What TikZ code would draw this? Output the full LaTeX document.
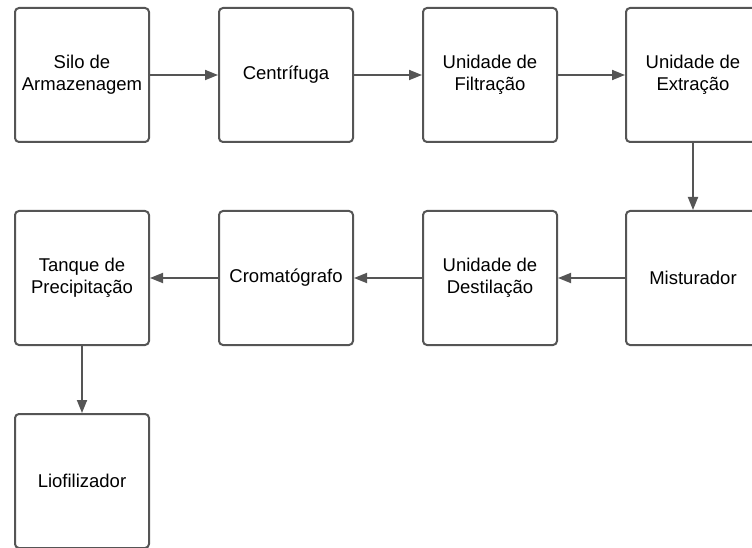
\documentclass[tikz,border=0pt]{standalone}
\usepackage{fontspec}
\setmainfont{Liberation Sans}
\usetikzlibrary{arrows.meta}

\begin{document}
\begin{tikzpicture}[x=1pt, y=-1pt]
% Define the custom color
  \definecolor{mygrey}{RGB}{85,85,85}
  \tikzset{
    unit/.style={draw=mygrey, line width=2pt, rounded corners=4pt, fill=white,
      minimum width=134pt, minimum height=134pt, align=center,
      font=\fontsize{18.5}{22}\selectfont},
    flow/.style={draw=mygrey, line width=1.8pt, -{Triangle[length=13pt, width=10pt]}}
  }
  \useasboundingbox (0,0) rectangle (752,548);

  % first row
  \node[unit] (silo) at (82,75) {Silo de\\Armazenagem};
  \node[unit] (centrifuga) at (286,75) {Centrífuga};
  \node[unit] (filtracao) at (490,75) {Unidade de\\Filtração};
  \node[unit] (extracao) at (693,75) {Unidade de\\Extração};
  % second row
  \node[unit] (tanque) at (82,278) {Tanque de\\Precipitação};
  \node[unit] (cromatografo) at (286,278) {Cromatógrafo};
  \node[unit] (destilacao) at (490,278) {Unidade de\\Destilação};
  \node[unit] (misturador) at (693,278) {Misturador};
  % third row
  \node[unit] (liofilizador) at (82,481) {Liofilizador};

  \draw[flow] (silo) -- (centrifuga);
  \draw[flow] (centrifuga) -- (filtracao);
  \draw[flow] (filtracao) -- (extracao);
  \draw[flow] (extracao) -- (misturador);
  \draw[flow] (misturador) -- (destilacao);
  \draw[flow] (destilacao) -- (cromatografo);
  \draw[flow] (cromatografo) -- (tanque);
  \draw[flow] (tanque) -- (liofilizador);

\end{tikzpicture}
\end{document}
